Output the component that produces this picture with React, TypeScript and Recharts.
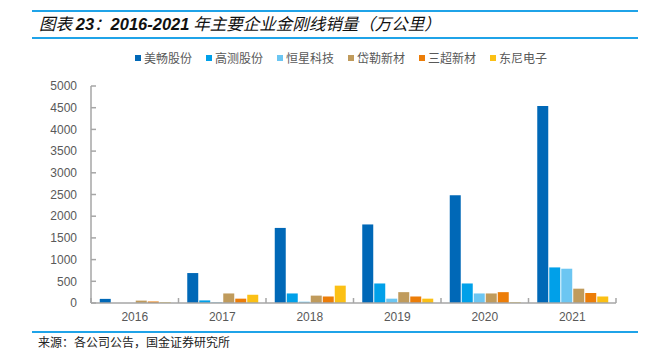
import React from "react";
import { BarChart, Bar, XAxis, YAxis } from "recharts";

const years = ["2016", "2017", "2018", "2019", "2020", "2021"];
const meichang = [95, 690, 1730, 1810, 2480, 4540];
const gaoce = [0, 60, 220, 450, 450, 820];
const hengxing = [0, 15, 30, 100, 220, 790];
const daile = [55, 220, 170, 250, 220, 330];
const sanchao = [35, 100, 150, 150, 250, 230];
const dongni = [15, 190, 400, 100, 15, 150];
const yTicks = [0, 500, 1000, 1500, 2000, 2500, 3000, 3500, 4000, 4500, 5000];

const seriesNames = ["美畅股份", "高测股份", "恒星科技", "岱勒新材", "三超新材", "东尼电子"];
const seriesKeys = ["meichang", "gaoce", "hengxing", "daile", "sanchao", "dongni"];
const seriesColors = ["#0068B7", "#00A0E9", "#6CC6F2", "#C09B5C", "#EC7D08", "#FBC015"];

const data = years.map((y, i) => ({
  year: y,
  meichang: meichang[i],
  gaoce: gaoce[i],
  hengxing: hengxing[i],
  daile: daile[i],
  sanchao: sanchao[i],
  dongni: dongni[i],
}));

const AXIS = "#A6A6A6";
const TXT = "#595959";
const FONT = "'Liberation Sans', Arial, 'Noto Sans CJK SC', sans-serif";
const CJK = "'Noto Sans CJK SC', 'Liberation Sans', sans-serif";
const BAND = (648 - 91 - 32) / 6;

const XTick = (props: any) => {
  const { x, y, payload, index } = props;
  return (
    <g>
      <line x1={x - BAND / 2} x2={x - BAND / 2} y1={y} y2={y - 5} stroke={AXIS} strokeWidth={1.5} />
      {index === years.length - 1 && (
        <line x1={x + BAND / 2} x2={x + BAND / 2} y1={y} y2={y - 5} stroke={AXIS} strokeWidth={1.5} />
      )}
      <text x={x} y={y + 9} dy="0.71em" textAnchor="middle" fill={TXT} fontSize={12} fontFamily={FONT}>
        {payload.value}
      </text>
    </g>
  );
};

const YTick = (props: any) => {
  const { x, y, payload } = props;
  return (
    <g>
      <line x1={x + 14} x2={x + 19} y1={y} y2={y} stroke={AXIS} strokeWidth={1.5} />
      <text x={x} y={y} dy="0.355em" textAnchor="end" fill={TXT} fontSize={12} fontFamily={FONT}>
        {payload.value}
      </text>
    </g>
  );
};

const num: React.CSSProperties = { fontFamily: "'Liberation Sans', Arial, sans-serif", fontWeight: "bold" };

export default function App() {
  return (
    <div style={{ position: "absolute", left: 0, top: 0, width: 648, height: 354, background: "#fff", overflow: "hidden" }}>
      <div style={{ position: "absolute", left: 32, right: 10, top: 10, height: 1.5, background: "#1FA3E8" }} />
      <div
        style={{
          position: "absolute",
          left: 39,
          top: 11,
          fontFamily: CJK,
          fontStyle: "italic",
          fontSize: 16.5,
          lineHeight: "24px",
          color: "#111",
          whiteSpace: "nowrap",
        }}
      >
        图表 <span style={num}>23</span>：<span style={num}>2016-2021</span> 年主要企业金刚线销量（万公里）
      </div>
      <div style={{ position: "absolute", left: 32, right: 10, top: 37, height: 1.5, background: "#1FA3E8" }} />

      <div style={{ position: "absolute", left: 135, top: 50, display: "flex", gap: 14, whiteSpace: "nowrap" }}>
        {seriesNames.map((n, i) => (
          <div key={n} style={{ display: "flex", alignItems: "center", fontFamily: CJK, fontSize: 12, color: TXT, lineHeight: "16px" }}>
            <span style={{ display: "inline-block", width: 6, height: 6, background: seriesColors[i], marginRight: 3 }} />
            {n}
          </div>
        ))}
      </div>

      <div style={{ position: "absolute", left: 0, top: 0 }}>
        <BarChart
          width={648}
          height={354}
          data={data}
          margin={{ top: 86, right: 32, bottom: 21, left: 0 }}
          barCategoryGap="10%"
          barGap={1}
        >
          <XAxis
            dataKey="year"
            height={30}
            axisLine={{ stroke: AXIS, strokeWidth: 1.5 }}
            tickLine={false}
            tickSize={0}
            tickMargin={0}
            tick={<XTick />}
            interval={0}
          />
          <YAxis
            width={91}
            domain={[0, 5000]}
            ticks={yTicks}
            axisLine={{ stroke: AXIS, strokeWidth: 1.5 }}
            tickLine={false}
            tickSize={0}
            tickMargin={14}
            tick={<YTick />}
            interval={0}
          />
          {seriesKeys.map((k, i) => (
            <Bar key={k} dataKey={k} name={seriesNames[i]} fill={seriesColors[i]} isAnimationActive={false} />
          ))}
        </BarChart>
      </div>

      <div style={{ position: "absolute", left: 32, right: 10, top: 331, height: 1.5, background: "#1FA3E8" }} />
      <div
        style={{
          position: "absolute",
          left: 38,
          top: 334,
          fontFamily: CJK,
          fontSize: 12,
          lineHeight: "16px",
          color: "#222",
          whiteSpace: "nowrap",
        }}
      >
        来源：各公司公告，国金证券研究所
      </div>
    </div>
  );
}
